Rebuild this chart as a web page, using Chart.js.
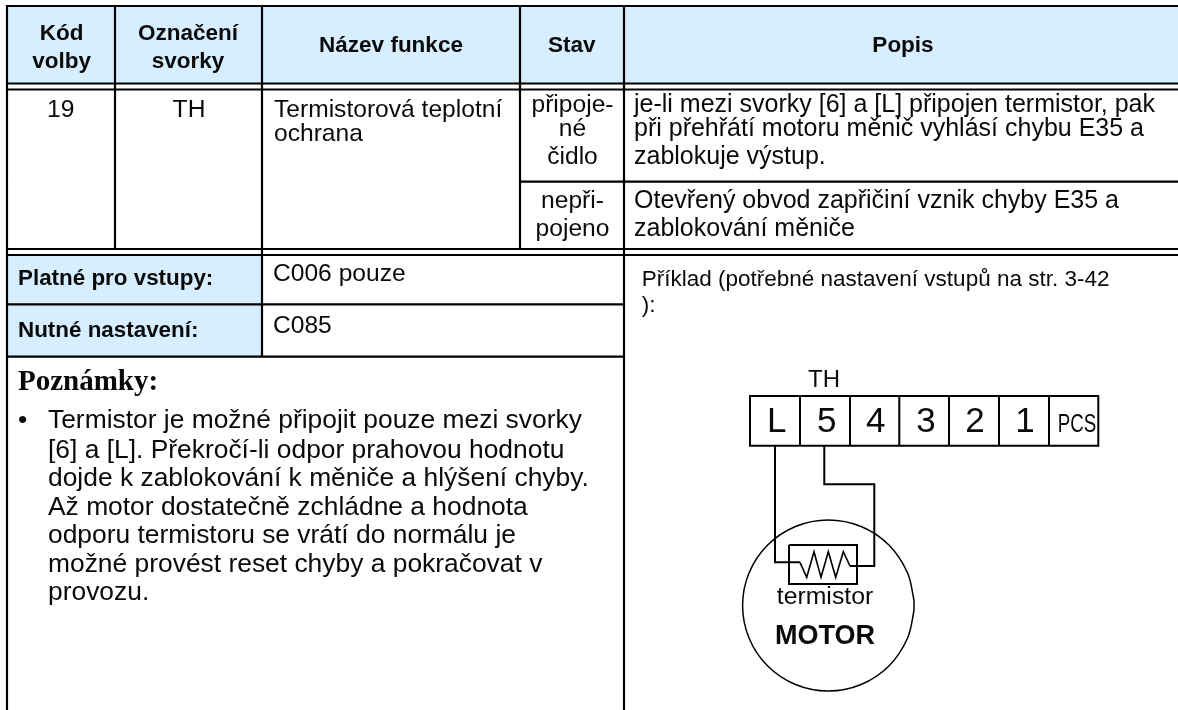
<!DOCTYPE html>
<html>
<head>
<meta charset="utf-8">
<title>Termistorová teplotní ochrana</title>
<script src="https://cdn.jsdelivr.net/npm/chart.js@4"></script>
<style>
  html, body { margin: 0; padding: 0; background: #fff; }
  canvas { display: block; }
</style>
</head>
<body>
<canvas id="sheet" width="1178" height="710"></canvas>
<script>
// ---- Table shape, in page units ----
const headerCell = [[7,6],[1178,6],[1178,84],[7,84],[7,6]];
const labelCell  = [[7,255],[262,255],[262,357],[7,357],[7,255]];

const gridLines = [
  [[6,6],[1178,6]],
  [[6,83.5],[1178,83.5]],
  [[6,89.5],[1178,89.5]],
  [[520,181.7],[1178,181.7]],
  [[6,249],[1178,249]],
  [[6,255],[1178,255]],
  [[6,304.3],[624,304.3]],
  [[6,356.7],[624,356.7]],
  [[7,5],[7,710]],
  [[115,5],[115,250]],
  [[262,5],[262,357]],
  [[520,5],[520,250]],
  [[624,5],[624,710]],
];

// ---- Wiring diagram ----
const terminalEdges = [750,800,850,899.3,949,999,1049,1098.3];
const terminalTop = 396;
const terminalBottom = 445.7;
const wireL = [[775,445.7],[775,562.3],[800,562.3]];
const wire5 = [[824.3,445.7],[824.3,484.3],[874.3,484.3],[874.3,567]];
const wire5End = [[874.3,566],[850,566]];
const thermistorBox = [[789,545],[857,545],[857,584],[789,584],[789,545]];
const zigzag = [[800,562.3],[806.7,577.3],[814,551.7],[821,577.3],[828.3,551.7],[835.7,577.3],[843.3,551.7],[850,566]];
const motorOutline = [
  [914,606.5],[914,605.5],[913.8,599.5],[907.5,572.8],[888.9,545],[861.1,526.5],[828.3,520],[795.5,526.5],[767.7,545],[749.1,572.8],
  [742.6,605.5],[749.1,638.2],[767.7,666],[795.5,684.5],[828.3,691],[861.1,684.5],[888.9,666],[907.5,638.2],[913.8,611.5],[914,605.5],[914,604.5],
];

// ---- Text: [string, x, baseline] ----
const SANS = '"Liberation Sans", Arial, sans-serif';
const SERIF = '"Liberation Serif", "Times New Roman", serif';
const headerLabels = [
  ['Kód',61.7,40],['volby',61.7,68],
  ['Označení',188,40],['svorky',188,68],
  ['Název funkce',391,52.3],['Stav',571.7,52.3],['Popis',903,52.3],
];
const centerLabels = [
  ['19',60.7,116.7],['TH',189,116.7],
  ['připoje-',572.5,111.5],['né',572.5,136],['čidlo',572.5,164],
  ['nepři-',572.5,208],['pojeno',572.5,235.5],
];
const leftLabels = [
  ['Termistorová teplotní',274,116.7],['ochrana',274,141],
  ['C006 pouze',273,281],['C085',273,333.3],
];
const descriptionLabels = [
  ['je-li mezi svorky [6] a [L] připojen termistor, pak',634,111.5],
  ['při přehřátí motoru měnič vyhlásí chybu E35 a',634,136],
  ['zablokuje výstup.',634,164],
  ['Otevřený obvod zapřičiní vznik chyby E35 a',634,208],
  ['zablokování měniče',634,235.5],
];
const sideLabels = [['Platné pro vstupy:',18,285],['Nutné nastavení:',18,337.3]];
const exampleLabels = [['Příklad (potřebné nastavení vstupů na str. 3-42',641.7,286],['):',641.7,311.7]];
const noteTitle = ['Poznámky:',18,390];
const noteBullet = ['•',18,428];
const noteLines = [
  ['Termistor je možné připojit pouze mezi svorky',48,428.3],
  ['[6] a [L]. Překročí-li odpor prahovou hodnotu',48,458],
  ['dojde k zablokování k měniče a hlýšení chyby.',48,486],
  ['Až motor dostatečně zchládne a hodnota',48,515],
  ['odporu termistoru se vrátí do normálu je',48,543],
  ['možné provést reset chyby a pokračovat v',48,572],
  ['provozu.',48,600],
];
const terminalNames = [['L',776.7],['5',826.7],['4',875.7],['3',926],['2',975],['1',1025]];
const terminalBaseline = 431.7;
const terminalPcs = ['PCS',1077,431.7];
const diagramTitle = ['TH',824,387.3];
const thermistorLabel = ['termistor',825,604.3];
const motorLabel = ['MOTOR',825,644.3];

// ---- Helpers ----
function _path(points) {
  return points.map(p => ({ x: p[0], y: p[1] }));
}

function _segments(lines) {
  const out = [];
  lines.forEach(l => {
    out.push(..._path(l));
    out.push({ x: NaN, y: NaN });
  });
  return out;
}

function _stroke(data, width, tension) {
  return {
    data,
    showLine: true,
    pointRadius: 0,
    borderColor: '#000',
    borderWidth: width,
    borderCapStyle: 'butt',
    borderJoinStyle: 'miter',
    tension: tension || 0,
    fill: false,
    spanGaps: false,
  };
}

function _fill(points) {
  return {
    data: _path(points),
    showLine: true,
    pointRadius: 0,
    borderWidth: 0,
    backgroundColor: '#d6eeff',
    fill: 'shape',
  };
}

const terminalLines = terminalEdges.map(x => [[x,terminalTop],[x,terminalBottom]]);
terminalLines.push([[749,terminalTop],[1099.3,terminalTop]], [[749,terminalBottom],[1099.3,terminalBottom]]);

// ---- Text plugin: places the labels through the chart scales ----
const textPlugin = {
  id: 'sheetText',
  afterDatasetsDraw(chart) {
    const { ctx, scales: { x, y } } = chart;
    const put = (items, font, align) => {
      ctx.font = font;
      ctx.textAlign = align;
      ctx.textBaseline = 'alphabetic';
      ctx.fillStyle = '#0a0a0a';
      items.forEach(it => ctx.fillText(it[0], x.getPixelForValue(it[1]), y.getPixelForValue(it[2])));
    };
    ctx.save();
    put(headerLabels, `bold 22.5px ${SANS}`, 'center');
    put(centerLabels, `24.6px ${SANS}`, 'center');
    put(leftLabels, `24.6px ${SANS}`, 'left');
    put(descriptionLabels, `25px ${SANS}`, 'left');
    put(sideLabels, `bold 22.4px ${SANS}`, 'left');
    put(exampleLabels, `22.5px ${SANS}`, 'left');
    put([noteTitle], `bold 29px ${SERIF}`, 'left');
    put([noteBullet], `26.4px ${SANS}`, 'left');
    put(noteLines, `26.4px ${SANS}`, 'left');
    put([diagramTitle], `24px ${SANS}`, 'center');
    put([thermistorLabel], `24.8px ${SANS}`, 'center');
    put([motorLabel], `bold 27px ${SANS}`, 'center');
    put(terminalNames.map(n => [n[0], n[1], terminalBaseline]), `35px ${SANS}`, 'center');

    // PCS is squeezed sideways in the original drawing
    ctx.save();
    ctx.translate(x.getPixelForValue(terminalPcs[1]), y.getPixelForValue(terminalPcs[2]));
    ctx.scale(0.72, 1);
    ctx.font = `26px ${SANS}`;
    ctx.textAlign = 'center';
    ctx.fillText(terminalPcs[0], 0, 0);
    ctx.restore();

    ctx.restore();
  }
};

// Chart.js paints the first dataset last, so the cell fills go at the end
new Chart(document.getElementById('sheet'), {
  type: 'scatter',
  data: {
    datasets: [
      _stroke(_segments(gridLines), 2.2),
      _stroke(_segments(terminalLines), 2),
      _stroke(_path(wireL), 2),
      _stroke(_path(wire5), 2),
      _stroke(_path(wire5End), 2),
      _stroke(_path(thermistorBox), 2),
      _stroke(_path(zigzag), 1.6),
      _stroke(_path(motorOutline), 1.5, 0.33),
      _fill(headerCell),
      _fill(labelCell),
    ]
  },
  options: {
    responsive: false,
    animation: false,
    layout: { padding: 0 },
    plugins: { legend: { display: false }, tooltip: { enabled: false } },
    scales: {
      x: { type: 'linear', display: false, min: 0, max: 1178 },
      y: { type: 'linear', display: false, min: 0, max: 710, reverse: true }
    }
  },
  plugins: [textPlugin]
});
</script>
</body>
</html>
